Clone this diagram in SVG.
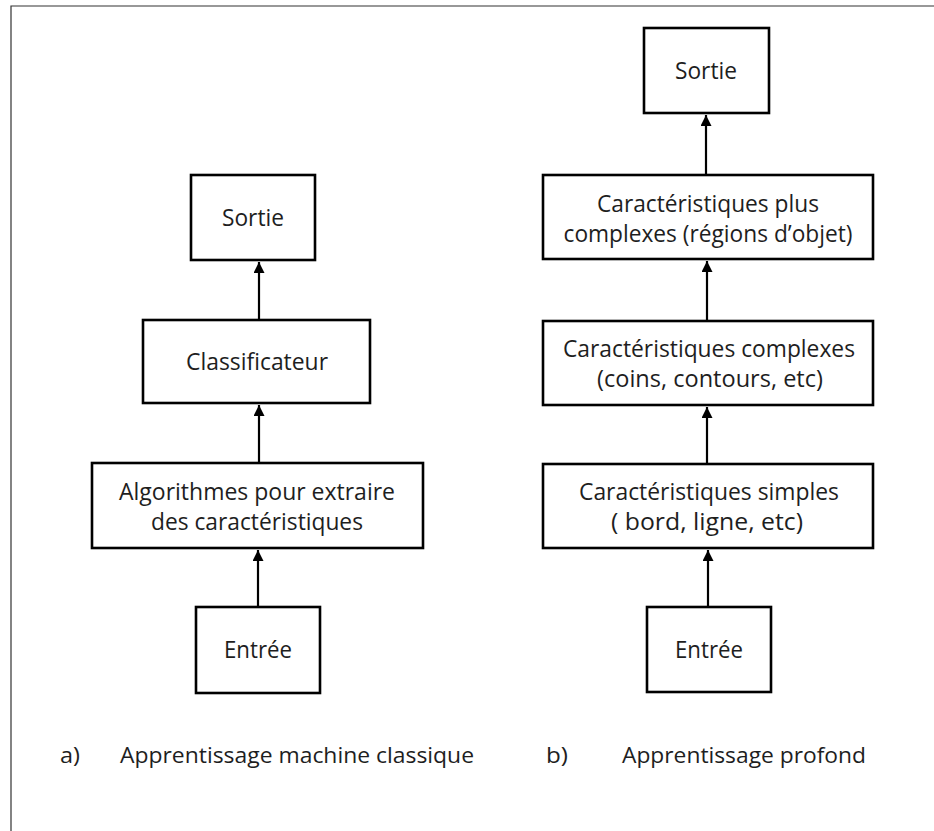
<svg xmlns="http://www.w3.org/2000/svg" width="934" height="831" viewBox="0 0 934 831">
  <defs>
    <style>
      .box { fill: #ffffff; stroke: #000000; stroke-width: 2.6; }
      .lbl { font-family: "Open Sans", "Liberation Sans", sans-serif; font-size: 23px; fill: #1e1e1e; text-anchor: middle; }
      .cap { font-family: "Open Sans", "Liberation Sans", sans-serif; font-size: 22px; fill: #1e1e1e; }
      .edge { stroke: #000000; stroke-width: 2.2; fill: none; marker-end: url(#head); }
      .frame { stroke: #333333; stroke-width: 1.2; fill: none; }
    </style>
    <marker id="head" viewBox="0 0 10 10" refX="10" refY="5" markerWidth="5" markerHeight="5" markerUnits="strokeWidth" orient="auto">
      <path d="M0,0 L10,5 L0,10 Z" fill="#000000"/>
    </marker>
  </defs>

  <rect width="934" height="831" fill="#ffffff"/>
  <!-- outer frame: top and left edges only -->
  <path class="frame" d="M11,831 L11,6 L934,6"/>

  <!-- a) classic machine learning pipeline -->
  <g id="a-sortie">
    <rect class="box" x="191" y="175" width="124" height="85"/>
    <text class="lbl" x="253" y="226" textLength="62" lengthAdjust="spacingAndGlyphs">Sortie</text>
  </g>
  <g id="a-classificateur">
    <rect class="box" x="143" y="320" width="227" height="83"/>
    <text class="lbl" x="257" y="370" textLength="142" lengthAdjust="spacingAndGlyphs">Classificateur</text>
  </g>
  <g id="a-algorithmes">
    <rect class="box" x="92" y="463" width="331" height="85"/>
    <text class="lbl" x="257" y="500" textLength="276" lengthAdjust="spacingAndGlyphs">Algorithmes pour extraire</text>
    <text class="lbl" x="257" y="530" textLength="212" lengthAdjust="spacingAndGlyphs">des caractéristiques</text>
  </g>
  <g id="a-entree">
    <rect class="box" x="196" y="607" width="124" height="86"/>
    <text class="lbl" x="258" y="658" textLength="68" lengthAdjust="spacingAndGlyphs">Entrée</text>
  </g>

  <!-- b) deep learning pipeline -->
  <g id="b-sortie">
    <rect class="box" x="644" y="28" width="125" height="85"/>
    <text class="lbl" x="706" y="79" textLength="62" lengthAdjust="spacingAndGlyphs">Sortie</text>
  </g>
  <g id="b-plus-complexes">
    <rect class="box" x="543" y="175" width="330" height="84"/>
    <text class="lbl" x="708" y="212" textLength="222" lengthAdjust="spacingAndGlyphs">Caractéristiques plus</text>
    <text class="lbl" x="708" y="242" textLength="289" lengthAdjust="spacingAndGlyphs">complexes (régions d’objet)</text>
  </g>
  <g id="b-complexes">
    <rect class="box" x="543" y="321" width="330" height="84"/>
    <text class="lbl" x="709" y="357" textLength="292" lengthAdjust="spacingAndGlyphs">Caractéristiques complexes</text>
    <text class="lbl" x="710" y="387" textLength="226" lengthAdjust="spacingAndGlyphs">(coins, contours, etc)</text>
  </g>
  <g id="b-simples">
    <rect class="box" x="543" y="464" width="330" height="84"/>
    <text class="lbl" x="709" y="500" textLength="260" lengthAdjust="spacingAndGlyphs">Caractéristiques simples</text>
    <text class="lbl" x="707" y="530" textLength="192" lengthAdjust="spacingAndGlyphs">( bord, ligne, etc)</text>
  </g>
  <g id="b-entree">
    <rect class="box" x="647" y="607" width="124" height="85"/>
    <text class="lbl" x="709" y="658" textLength="68" lengthAdjust="spacingAndGlyphs">Entrée</text>
  </g>

  <!-- connectors (bottom to top) -->
  <g id="connectors">
    <line class="edge" x1="258" y1="606" x2="258" y2="550"/>
    <line class="edge" x1="259" y1="462" x2="259" y2="405"/>
    <line class="edge" x1="259" y1="319" x2="259" y2="262"/>
    <line class="edge" x1="708" y1="606" x2="708" y2="550"/>
    <line class="edge" x1="707" y1="463" x2="707" y2="407"/>
    <line class="edge" x1="707" y1="320" x2="707" y2="261"/>
    <line class="edge" x1="706" y1="174" x2="706" y2="115"/>
  </g>

  <!-- captions -->
  <g id="captions">
    <text class="cap" x="60" y="763" textLength="20" lengthAdjust="spacingAndGlyphs">a)</text>
    <text class="cap" x="120" y="763" textLength="354" lengthAdjust="spacingAndGlyphs">Apprentissage machine classique</text>
    <text class="cap" x="546" y="763" textLength="22" lengthAdjust="spacingAndGlyphs">b)</text>
    <text class="cap" x="622" y="763" textLength="244" lengthAdjust="spacingAndGlyphs">Apprentissage profond</text>
  </g>
</svg>
